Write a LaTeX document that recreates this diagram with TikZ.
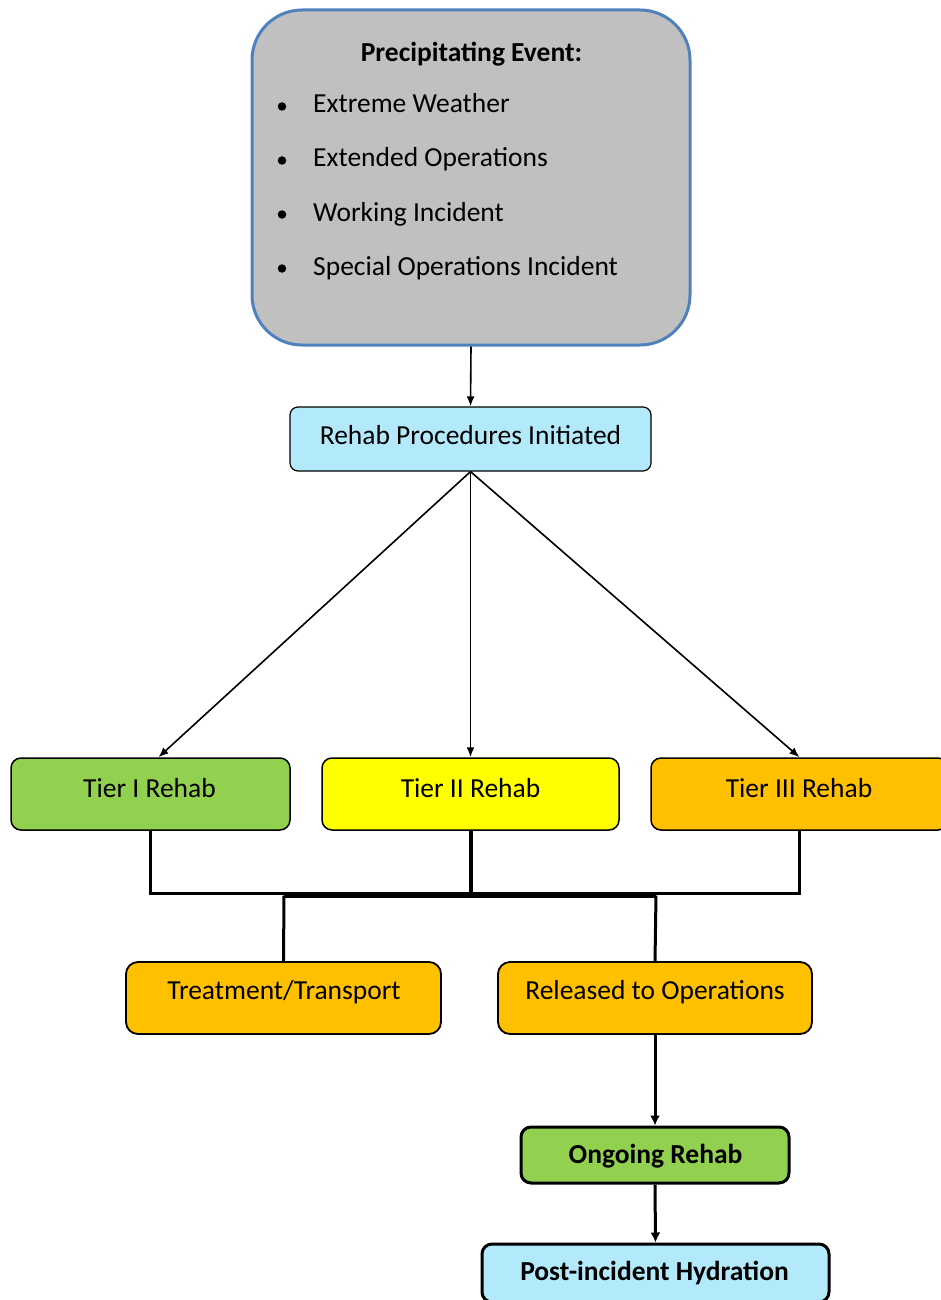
\documentclass[tikz,border=0pt]{standalone}
\usepackage{fontspec}
\setmainfont{Carlito}
\usetikzlibrary{arrows.meta,calc}
\definecolor{evgray}{RGB}{192,192,192}
\definecolor{evblue}{RGB}{79,129,189}
\definecolor{lcyan}{RGB}{178,234,252}
\definecolor{tgreen}{RGB}{146,208,80}
\definecolor{tyellow}{RGB}{255,255,0}
\definecolor{torange}{RGB}{255,192,0}
\tikzset{
  box/.style={draw=black, line width=1.5pt, rounded corners=10pt, inner sep=0pt},
  txt/.style={anchor=base, inner sep=0pt, font=\fontsize{27.5}{33}\selectfont},
  btxt/.style={txt, font=\fontsize{27.5}{33}\selectfont\bfseries},
  ltxt/.style={txt, anchor=base west},
  thinarrow/.style={line width=1.6pt, -{Latex[length=10pt,width=8pt]}},
  thickarrow/.style={line width=3pt, -{Latex[length=10pt,width=10pt]}},
  elbow/.style={line width=3pt},
  bullet/.style={circle, fill=black, inner sep=0pt, minimum size=8.5pt}
}
\begin{document}
\begin{tikzpicture}[x=1pt,y=-1pt]
\useasboundingbox (0,0) rectangle (940,1300);
% top event box
\node[draw=evblue, fill=evgray, line width=3pt, rounded corners=50pt,
      minimum width=438pt, minimum height=335pt, inner sep=0pt] (ev) at (471,177.5) {};
\node[btxt] (evt) at (471.5,62) {Precipitating Event:};
\node[bullet] (b1) at (282,106.5) {};
\node[bullet] (b2) at (282,160.5) {};
\node[bullet] (b3) at (282,214.5) {};
\node[bullet] (b4) at (282,268.5) {};
\node[ltxt] (l1) at (313,113) {Extreme Weather};
\node[ltxt] (l2) at (313,167) {Extended Operations};
\node[ltxt] (l3) at (313,221) {Working Incident};
\node[ltxt] (l4) at (313,275) {Special Operations Incident};
% rehab initiated
\node[box, fill=lcyan, line width=1.2pt, rounded corners=8pt,
      minimum width=361pt, minimum height=64pt] (rp) at (470.5,439) {};
\node[txt] (rpt) at (470.5,444) {Rehab Procedures Initiated};
% tiers
\node[box, fill=tgreen, minimum width=279pt, minimum height=72pt] (t1) at (150.5,794) {};
\node[txt] (t1t) at (149.5,797) {Tier I Rehab};
\node[box, fill=tyellow, minimum width=297pt, minimum height=72pt] (t2) at (470.5,794) {};
\node[txt] (t2t) at (470.5,797) {Tier II Rehab};
\node[box, fill=torange, minimum width=297pt, minimum height=72pt] (t3) at (799.5,794) {};
\node[txt] (t3t) at (799,797) {Tier III Rehab};
% outcomes
\node[box, fill=torange, line width=1.8pt, rounded corners=12pt,
      minimum width=315pt, minimum height=72pt] (tr) at (283.5,998) {};
\node[txt] (trt) at (284,999) {Treatment/Transport};
\node[box, fill=torange, line width=1.8pt, rounded corners=12pt,
      minimum width=314pt, minimum height=72pt] (ro) at (655,998) {};
\node[txt] (rot) at (655,999) {Released to Operations};
\node[box, fill=tgreen, line width=3pt, rounded corners=10pt,
      minimum width=268pt, minimum height=56pt] (og) at (655,1155) {};
\node[btxt] (ogt) at (655.5,1163) {Ongoing Rehab};
\node[box, fill=lcyan, line width=3pt, rounded corners=10pt,
      minimum width=347pt, minimum height=58pt] (ph) at (655.5,1273) {};
\node[btxt] (pht) at (654.5,1280) {Post-incident Hydration};
% connectors
\draw[thinarrow] (ev.south) -- (rp.north);
\draw[thinarrow] (rp.south) -- ($(t1.north)+(8,0)$);
\draw[thinarrow] (rp.south) -- (t2.north);
\draw[thinarrow] (rp.south) -- (t3.north);
\coordinate (jl) at (284,895.5);
\coordinate (jr) at (656,895.5);
\draw[elbow] (t1.south) -- ++(0,63) -| (t3.south);
\draw[line width=4pt] (t2.south) -- (t2.south |- jl);
\draw[line width=5pt] (jl) -- (jr);
\draw[elbow] (jl) -- (tr.north);
\draw[elbow] (jr) -- (ro.north);
\draw[thickarrow] (ro.south) -- (og.north);
\draw[thickarrow] (og.south) -- (ph.north);
\end{tikzpicture}
\end{document}
